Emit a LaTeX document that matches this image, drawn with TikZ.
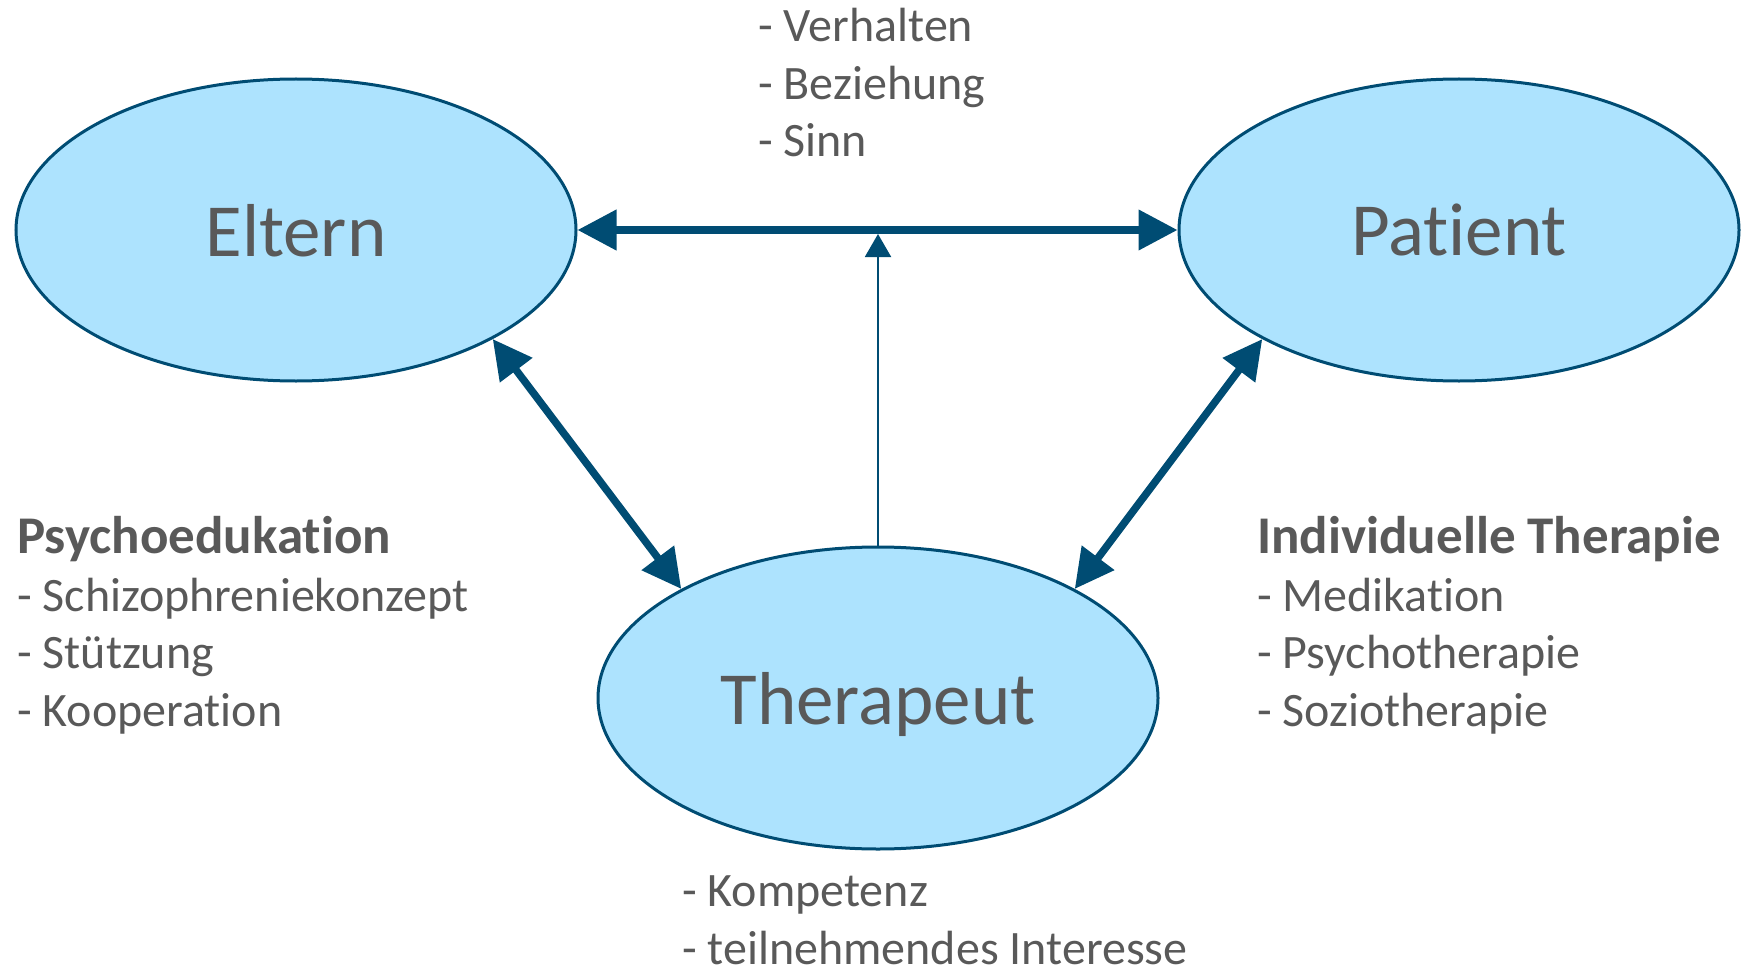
\documentclass[tikz,border=0pt]{standalone}
\usepackage{fontspec}
\setmainfont{Carlito}[Ligatures=NoCommon]
\usepackage{xcolor}
\usepackage{tikz}
\usetikzlibrary{shapes.geometric,arrows.meta}

\definecolor{ringblue}{HTML}{004C73}
\definecolor{fillblue}{HTML}{ADE3FE}
\definecolor{textgray}{HTML}{595959}

\newcommand{\headline}[1]{{\fontsize{53}{58}\selectfont\bfseries #1}}

\begin{document}
\begin{tikzpicture}[
  x=1pt, y=-1pt,
  person/.style={ellipse, draw=ringblue, fill=fillblue, line width=3pt,
    minimum width=560pt, minimum height=302pt, text=textgray,
    font=\fontsize{75}{90}\selectfont, text depth=0pt},
  info/.style={anchor=base west, inner sep=0pt, align=left, text=textgray,
    font=\fontsize{48}{57.5}\selectfont},
  link/.style={draw=ringblue, line width=7.5pt,
    {Triangle[length=39pt,width=39pt]}-{Triangle[length=39pt,width=39pt]}},
  thin link/.style={draw=ringblue, line width=2pt,
    -{Triangle[length=23pt,width=26pt]}}
  ]
  \useasboundingbox (0,0) rectangle (1746,971);

  \node[person] (Eltern) at (296,230) {Eltern};
  \node[person] (Patient) at (1459,230) {Patient};
  \node[person] (Therapeut) at (878,698) {Therapeut};

  \coordinate (join) at (878,234);

  \draw[link] (Eltern.east) -- (Patient.west);
  \draw[thin link] (Therapeut.north) -- (join);
  \draw[link] (Eltern.-29) -- (Therapeut.151);
  \draw[link] (Patient.-151) -- (Therapeut.29);

  % base anchor sits on the last line
  \node[info] (ziele) at (758,157) {- Verhalten\\- Beziehung\\- Sinn};
  \node[info] (psychoedu) at (17,726)
    {\headline{Psychoedukation}\\- Schizophreniekonzept\\- Stützung\\- Kooperation};
  \node[info] (einzel) at (1257,726)
    {\headline{Individuelle Therapie}\\- Medikation\\- Psychotherapie\\- Soziotherapie};
  \node[info] (haltung) at (682,964) {- Kompetenz\\- teilnehmendes Interesse};
\end{tikzpicture}
\end{document}
